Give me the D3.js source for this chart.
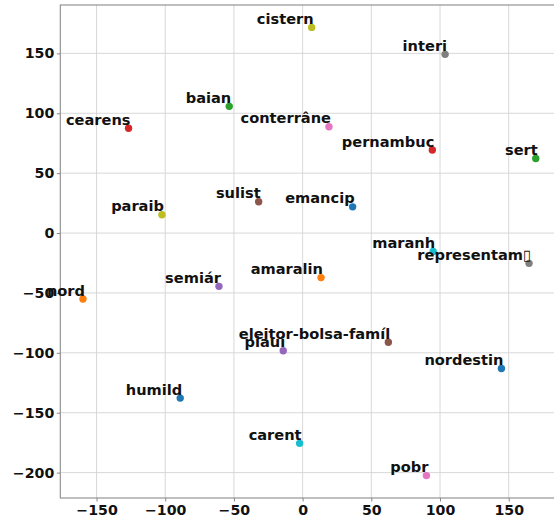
<!DOCTYPE html>
<html>
<head>
<meta charset="utf-8">
<script src="https://cdn.jsdelivr.net/npm/d3@7"></script>
<style>
  html, body { margin: 0; padding: 0; background: #fff; }
  svg { display: block; }
  text { font-family: "DejaVu Sans", sans-serif; font-weight: bold; }
</style>
</head>
<body>
<svg id="chart" width="554" height="518"></svg>
<script>
// Word embedding projection: term labels and their 2-D coordinates
const words = ["emancip", "amaralin", "baian", "cearens", "semiár", "sulist", "conterrâne",
  "interi", "cistern", "carent", "nordestin", "nord", "sert", "pernambuc", "piaui",
  "eleitor-bolsa-famíl", "pobr", "representam\u25AF", "paraib", "maranh", "humild"];
const xs = [36.4, 13.4, -53.4, -126.7, -60.9, -32.0, 19.2,
  103.7, 6.6, -2.2, 144.7, -159.9, 169.7, 94.4, -14.1,
  62.4, 90.1, 164.8, -102.4, 95.0, -89.1];
const ys = [21.9, -37.2, 105.8, 87.5, -44.5, 26.1, 88.8,
  149.2, 171.7, -175.6, -113.1, -55.0, 62.2, 69.4, -98.3,
  -91.2, -202.5, -25.3, 15.3, -15.3, -137.8];
const xTicks = [-150, -100, -50, 0, 50, 100, 150];
const yTicks = [-200, -150, -100, -50, 0, 50, 100, 150];
const palette = ["#1f77b4", "#ff7f0e", "#2ca02c", "#d62728", "#9467bd",
  "#8c564b", "#e377c2", "#7f7f7f", "#bcbd22", "#17becf"];

const points = words.map((w, i) => ({ word: w, x: xs[i], y: ys[i], color: palette[i % palette.length] }));

const svg = d3.select("#chart");
const plot = { left: 60.3, right: 558.4, top: 5, bottom: 498 };

// 5% padding around the data extent on both axes
const pad = (lo, hi) => { const m = (hi - lo) * 0.05; return [lo - m, hi + m]; };
const x = d3.scaleLinear().domain(pad(d3.min(xs), d3.max(xs))).range([plot.left, plot.right]);
const y = d3.scaleLinear().domain(pad(d3.min(ys), d3.max(ys))).range([plot.bottom, plot.top]);

const minus = s => String(s).replace("-", "\u2212");

// grid
const grid = svg.append("g").attr("stroke", "#d4d4d4").attr("stroke-width", 0.9);
grid.selectAll("line.gx").data(xTicks).join("line")
  .attr("x1", d => x(d)).attr("x2", d => x(d))
  .attr("y1", plot.top).attr("y2", plot.bottom);
grid.selectAll("line.gy").data(yTicks).join("line")
  .attr("x1", plot.left).attr("x2", plot.right)
  .attr("y1", d => y(d)).attr("y2", d => y(d));

// axes
const xAxis = d3.axisBottom(x).tickValues(xTicks).tickSize(3.5).tickPadding(3).tickFormat(minus);
const yAxis = d3.axisLeft(y).tickValues(yTicks).tickSize(3.5).tickPadding(2.5).tickFormat(minus);

const gx = svg.append("g").attr("transform", `translate(0,${plot.bottom})`).call(xAxis);
const gy = svg.append("g").attr("transform", `translate(${plot.left},0)`).call(yAxis);
[gx, gy].forEach(g => {
  g.select(".domain").remove();
  g.selectAll(".tick line").attr("stroke", "#888");
  g.selectAll(".tick text").attr("fill", "#111").style("font-size", "14.2px")
    .style("font-family", "'DejaVu Sans', sans-serif").style("font-weight", "bold");
});

// frame
svg.append("rect")
  .attr("x", plot.left).attr("y", plot.top)
  .attr("width", plot.right - plot.left).attr("height", plot.bottom - plot.top)
  .attr("fill", "none").attr("stroke", "#8a8a8a").attr("stroke-width", 1.1);

// points
svg.append("g").selectAll("circle").data(points).join("circle")
  .attr("cx", d => x(d.x)).attr("cy", d => y(d.y))
  .attr("r", 3.7).attr("fill", d => d.color);

// labels: right-aligned, sitting just above each point
svg.append("g").selectAll("text").data(points).join("text")
  .attr("x", d => x(d.x) + 2)
  .attr("y", d => y(d.y) - 3.4)
  .attr("text-anchor", "end")
  .attr("fill", "#111")
  .style("font-size", "14.6px")
  .text(d => d.word);
</script>
</body>
</html>
